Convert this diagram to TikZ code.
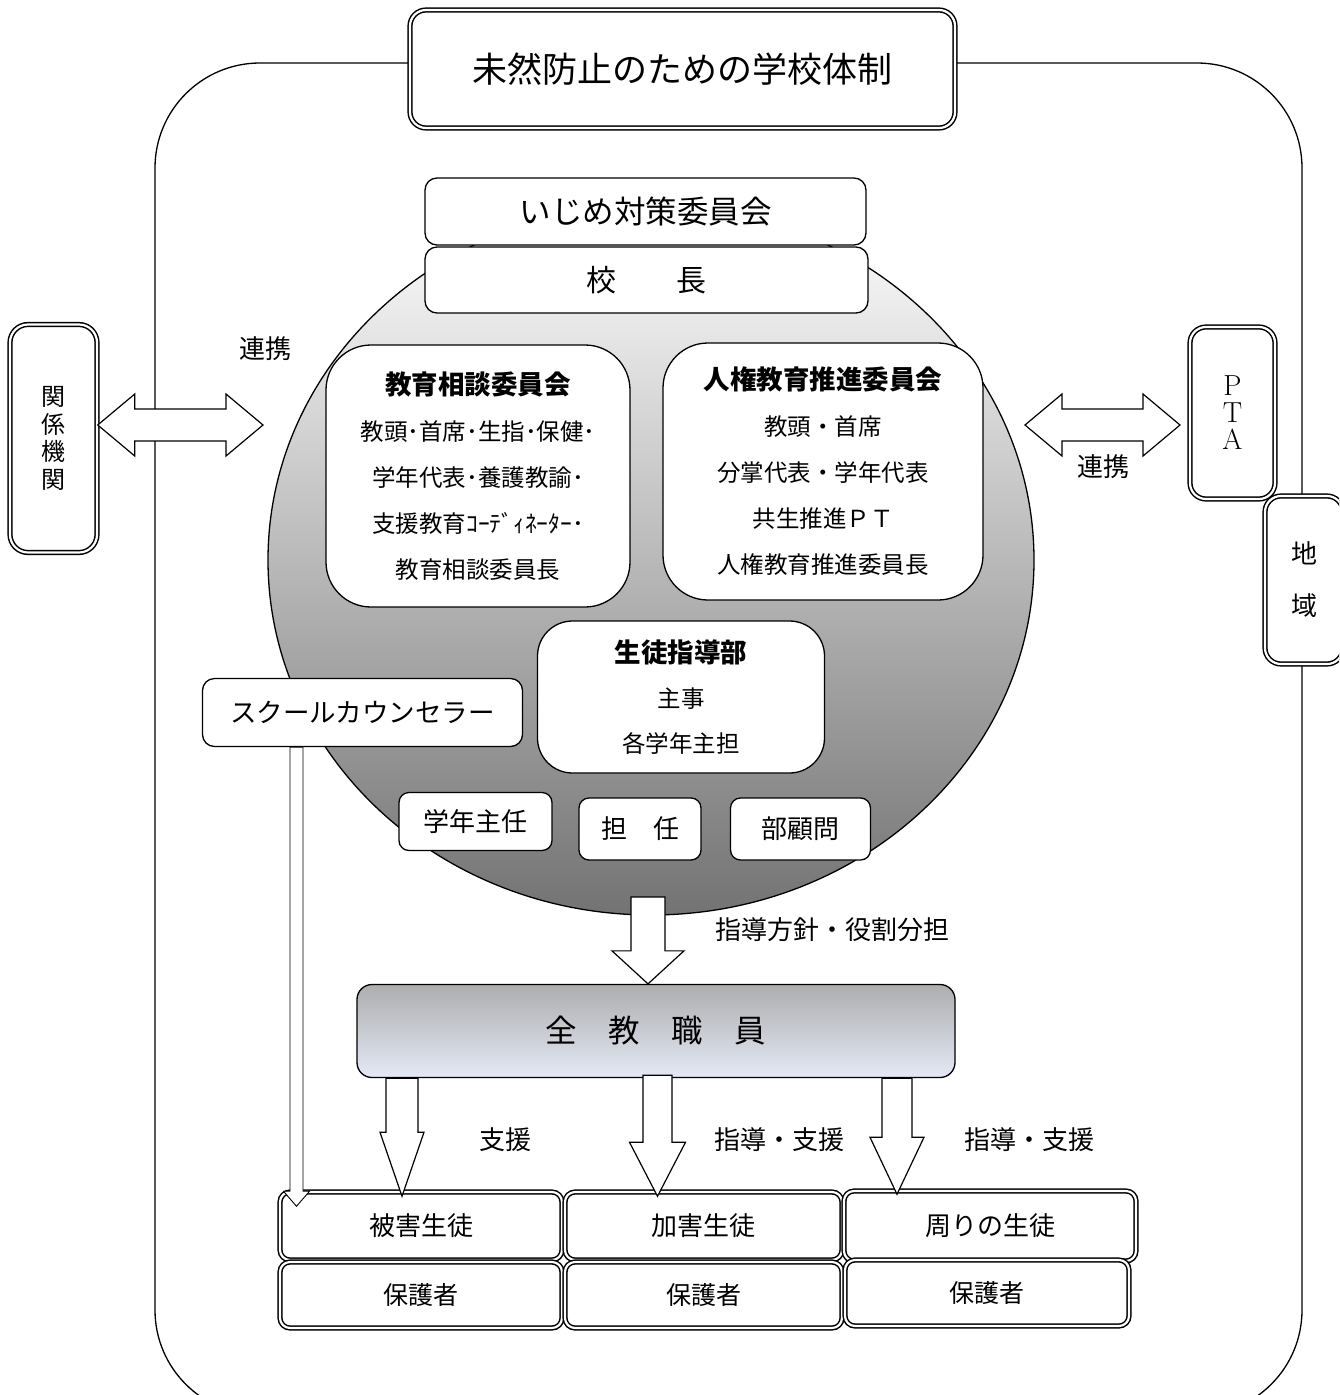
\documentclass[tikz,border=0pt]{standalone}
\usepackage{fontspec}
\newfontfamily\jp{Noto Sans CJK JP}
\usetikzlibrary{shapes.geometric,calc}
\newcommand\jpsize[2]{\jp\fontsize{#1}{#2}\selectfont}
\newcommand\blockdown[5]{%
  \draw[blk] let \p1=#1, \p2=#2 in
    (\x2-#3pt,\y1) -- (\x2+#3pt,\y1) -- (\x2+#3pt,\y2+#5pt) -- (\x2+#4pt,\y2+#5pt)
    -- (\x2,\y2) -- (\x2-#4pt,\y2+#5pt) -- (\x2-#3pt,\y2+#5pt) -- cycle;}
\newcommand\blockboth[5]{%
  \draw[blk] let \p1=#1, \p2=#2 in
    (\x1,\y1) -- (\x1+#5pt,\y1+#4pt) -- (\x1+#5pt,\y1+#3pt) -- (\x2-#5pt,\y1+#3pt)
    -- (\x2-#5pt,\y1+#4pt) -- (\x2,\y1) -- (\x2-#5pt,\y1-#4pt) -- (\x2-#5pt,\y1-#3pt)
    -- (\x1+#5pt,\y1-#3pt) -- (\x1+#5pt,\y1-#4pt) -- cycle;}
\tikzset{
  box/.style={draw, fill=white, line width=1.3pt, rounded corners=#1, inner sep=0pt, align=center},
  box/.default=10pt,
  dbox/.style={box=#1, double, double distance=2.2pt, line width=1.5pt},
  dbox/.default=10pt,
  blk/.style={draw, fill=white, line width=1.2pt, line join=miter},
  lbl/.style={inner sep=0pt, font=\jpsize{26}{30}},
}
\begin{document}
\begin{tikzpicture}[x=1pt,y=-1pt]
\useasboundingbox (0,0) rectangle (1339,1395);
\clip (0,0) rectangle (1339,1395);
% outer frame
\draw[line width=1.3pt, rounded corners=105pt] (155,63) rectangle (1302,1415);
% shaded circle
\node[ellipse, draw, line width=1.3pt, top color=white, bottom color=black!55,
      minimum width=766pt, minimum height=710pt, inner sep=0pt] (circ) at (651,560) {};
% title
\node[dbox=16pt, minimum width=545pt, minimum height=118pt, font=\jpsize{35}{40}] (title) at (682.5,69) {未然防止のための学校体制};
% top boxes
\node[box=12pt, minimum width=441pt, minimum height=67pt, font=\jpsize{31.5}{36}] (ijime) at (645.5,211.5) {いじめ対策委員会};
\node[box=12pt, minimum width=443pt, minimum height=66pt, font=\jpsize{30}{34}] (kocho) at (646.5,280) {校　　長};
% committees
\node[box=45pt, minimum width=304pt, minimum height=262pt, font=\jpsize{23.5}{46}] (soudan) at (478,476)
  {{\bfseries\jpsize{26.5}{46}教育相談委員会}\\教頭･首席･生指･保健･\\学年代表･養護教諭･\\支援教育ｺｰﾃﾞｨﾈｰﾀｰ･\\教育相談委員長};
\node[box=45pt, minimum width=320pt, minimum height=257pt, font=\jpsize{23.5}{46}] (jinken) at (823,471.5)
  {{\bfseries\jpsize{26.5}{46}人権教育推進委員会}\\教頭・首席\\分掌代表・学年代表\\共生推進ＰＴ\\人権教育推進委員長};
\node[box=35pt, minimum width=287pt, minimum height=152pt, font=\jpsize{23.5}{45}] (seito) at (681,697)
  {{\bfseries\jpsize{26.5}{45}生徒指導部}\\主事\\各学年主担};
\node[box=12pt, minimum width=320pt, minimum height=68pt, font=\jpsize{26.5}{30}] (sc) at (362.5,712.5) {スクールカウンセラー};
\node[box=10pt, minimum width=153pt, minimum height=58pt, font=\jpsize{26}{30}] (gakunen) at (475.5,821.5) {学年主任};
\node[box=10pt, minimum width=122pt, minimum height=62pt, font=\jpsize{26}{30}] (tannin) at (640,829) {担　任};
\node[box=10pt, minimum width=140pt, minimum height=62pt, font=\jpsize{26}{30}] (komon) at (800.5,829) {部顧問};
% all staff
\node[draw, line width=1.3pt, rounded corners=15pt, minimum width=598pt, minimum height=93pt, inner sep=0pt,
      top color=black!32, middle color={rgb,255:red,240;green,242;blue,250}, bottom color={rgb,255:red,228;green,233;blue,246},
      font=\jpsize{31.5}{36}] (all) at (656,1031) {全　教　職　員};
% side boxes
\node[dbox=18pt, minimum width=87pt, minimum height=228pt, font=\jpsize{24}{27.5}] (kankei) at (53.5,438.5) {関\\係\\機\\関};
\node[dbox=16pt, minimum width=85pt, minimum height=172pt, font=\rmfamily\fontsize{29}{27}\selectfont] (pta) at (1232.5,413) {P\\T\\A};
\node[dbox=16pt, minimum width=78pt, minimum height=168pt, font=\jpsize{26}{52}] (chiiki) at (1304,580) {地\\域};
% students and guardians
\node[dbox, minimum width=282pt, minimum height=68pt, font=\jpsize{26}{30}] (vA) at (421,1226) {被害生徒};
\node[dbox, minimum width=277pt, minimum height=68pt, font=\jpsize{26}{30}] (vB) at (703.5,1226) {加害生徒};
\node[dbox, minimum width=292pt, minimum height=70pt, font=\jpsize{26}{30}] (vC) at (990,1226) {周りの生徒};
\node[dbox, minimum width=282pt, minimum height=66pt, font=\jpsize{25}{30}] (pA) at (421,1295) {保護者};
\node[dbox, minimum width=277pt, minimum height=66pt, font=\jpsize{25}{30}] (pB) at (703.5,1295) {保護者};
\node[dbox, minimum width=284pt, minimum height=66pt, font=\jpsize{25}{30}] (pC) at (987,1293) {保護者};
% arrows
\coordinate (lc) at (263,425);
\blockboth{(kankei.east |- lc)}{(lc)}{16}{31}{37}
\coordinate (rc) at (1025,425);
\coordinate (rp) at (1180,425);
\blockboth{(rc)}{(rp)}{16}{31}{37}
\coordinate (m) at (648,897);
\blockdown{(m)}{(m |- all.north)}{17}{36}{33}
\coordinate (a1) at (402,0);
\coordinate (a2) at (657.5,0);
\coordinate (a3) at (897,0);
\blockdown{(a1 |- all.south)}{($(a1 |- vA.north)+(0,5)$)}{16}{22}{64}
\blockdown{($(a2 |- all.south)+(0,-3)$)}{($(a2 |- vB.north)+(0,5)$)}{14.5}{28}{54}
\blockdown{(a3 |- all.south)}{($(a3 |- vC.north)+(0,4)$)}{15}{27}{57}
\coordinate (s) at (296.5,0);
\begin{scope}[blk/.append style={line width=0.9pt}]
\blockdown{(s |- sc.south)}{($(s |- vA.north)+(0,15)$)}{6.5}{13}{15}
\end{scope}
% labels
\node[lbl] (rk1) at (265,349) {連携};
\node[lbl] (rk2) at (1103,467) {連携};
\node[lbl] (shido) at (832,930) {指導方針・役割分担};
\node[lbl] (s1) at (505,1140) {支援};
\node[lbl] (s2) at (779,1140) {指導・支援};
\node[lbl] (s3) at (1029,1140) {指導・支援};
\end{tikzpicture}
\end{document}
